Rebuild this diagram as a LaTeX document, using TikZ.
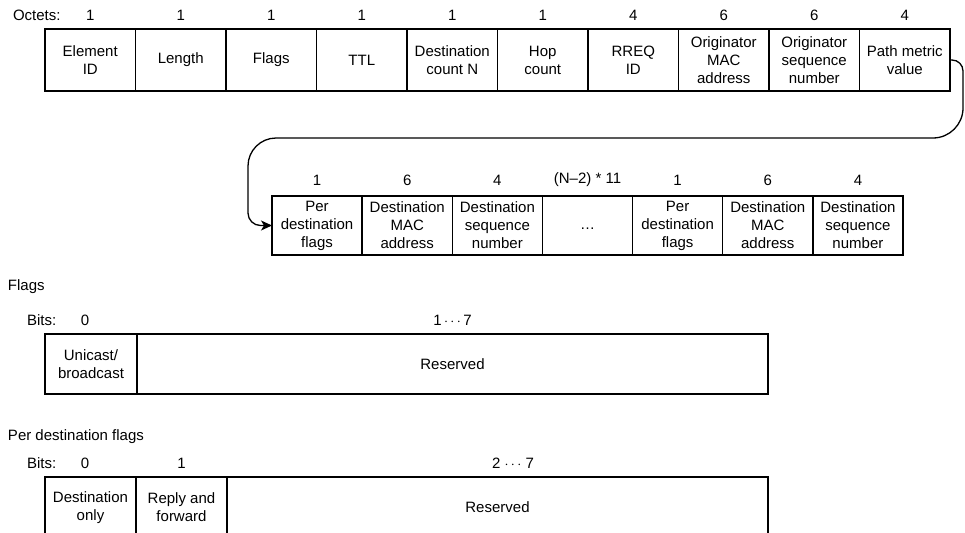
\documentclass[tikz,border=0pt]{standalone}
\usepackage{fontspec}
\setmainfont{Liberation Sans}
\usetikzlibrary{arrows.meta}
\begin{document}
\begin{tikzpicture}[x=1pt,y=-1pt,
  every node/.style={font=\fontsize{15}{18}\selectfont, inner sep=0pt, outer sep=0pt},
  cell/.style={draw, line width=1.3pt, align=center, minimum height=62pt, minimum width=90.5pt},
  cellb/.style={draw, line width=1.3pt, align=center, minimum height=59pt, minimum width=90.14pt},
  cellc/.style={draw, line width=1.3pt, align=center, minimum height=60pt},
  celld/.style={draw, line width=1.3pt, align=center, minimum height=61pt},
  outerbox/.style={line width=1.8pt},
  conn/.style={line width=1.3pt, -{Stealth[length=11pt,width=10pt,inset=3pt]}}]
\useasboundingbox (0,0) rectangle (965,532);
\clip (0,0) rectangle (965,532);

% ---------- top row ----------
\node[anchor=west] (oct) at (13,15) {Octets:};
\node[cell] (eid) at (90.25,60) {Element\\ID};
\node[cell] (len) at (180.75,60) {Length};
\node[cell] (flg) at (271.25,60) {Flags};
\node[cell] (ttl) at (361.75,60) {TTL};
\node[cell] (dcn) at (452.25,60) {Destination\\count N};
\node[cell] (hop) at (542.75,60) {Hop\\count};
\node[cell] (rid) at (633.25,60) {RREQ\\ID};
\node[cell] (oma) at (723.75,60) {Originator\\MAC\\address};
\node[cell] (osn) at (814.25,60) {Originator\\sequence\\number};
\node[cell] (pmv) at (904.75,60) {Path metric\\value};
\draw[outerbox] (eid.north west) rectangle (pmv.south east);

\node (o1) at (90.25,15) {1};
\node (o2) at (180.75,15) {1};
\node (o3) at (271.25,15) {1};
\node (o4) at (361.75,15) {1};
\node (o5) at (452.25,15) {1};
\node (o6) at (542.75,15) {1};
\node (o7) at (633.25,15) {4};
\node (o8) at (723.75,15) {6};
\node (o9) at (814.25,15) {6};
\node (o10) at (904.75,15) {4};

% ---------- second row ----------
\node[cellb] (pdf1) at (317.07,225.5) {Per\\destination\\flags};
\node[cellb] (dma1) at (407.21,225.5) {Destination\\MAC\\address};
\node[cellb] (dsn1) at (497.35,225.5) {Destination\\sequence\\number};
\node[cellb] (dots) at (587.49,225.5) {\strut\ldots};
\node[cellb] (pdf2) at (677.63,225.5) {Per\\destination\\flags};
\node[cellb] (dma2) at (767.77,225.5) {Destination\\MAC\\address};
\node[cellb] (dsn2) at (857.91,225.5) {Destination\\sequence\\number};
\draw[outerbox] (pdf1.north west) rectangle (dsn2.south east);

\node (s1) at (317.07,180) {1};
\node (s2) at (407.21,180) {6};
\node (s3) at (497.35,180) {4};
\node (s4) at (587.49,180) {(N–2) * 11};
\node (s5) at (677.63,180) {1};
\node (s6) at (767.77,180) {6};
\node (s7) at (857.91,180) {4};

% ---------- connector ----------
\coordinate (a1) at (952,60);
\coordinate (b1) at (963,71);
\coordinate (a2) at (963,108);
\coordinate (b2) at (933,138);
\coordinate (a3) at (276,138);
\coordinate (b3) at (248,166);
\coordinate (a4) at (248,213);
\coordinate (b4) at (260.5,225.5);
\draw[conn] (pmv.east) -- (a1)
  .. controls (958.05,60) and (963,64.95) .. (b1) -- (a2)
  .. controls (963,124.5) and (949.5,138) .. (b2) -- (a3)
  .. controls (260.6,138) and (248,150.6) .. (b3) -- (a4)
  .. controls (248,219.9) and (253.6,225.5) .. (b4) -- (pdf1.west);

% ---------- Flags ----------
\node[anchor=west] (ft) at (8,287) {Flags};
\node[anchor=west] (fb) at (27,320) {Bits:};
\node (fb0) at (85,320) {0};
\node (fb17) at (452.5,320) {1\,$\cdots$\,7};
\node[cellc, minimum width=92pt] (uni) at (91,364) {Unicast/\\broadcast};
\node[cellc, minimum width=631pt] (fres) at (452.5,364) {Reserved};
\draw[outerbox] (uni.north west) rectangle (fres.south east);

% ---------- Per destination flags ----------
\node[anchor=west] (pt) at (8,437) {Per destination flags};
\node[anchor=west] (pb) at (27,463) {Bits:};
\node (pb0) at (85,463) {0};
\node (pb1) at (181.5,463) {1};
\node (pb27) at (513,463) {2 $\cdots$ 7};
\node[celld, minimum width=91pt] (donly) at (90.5,507.5) {Destination\\only};
\node[celld, minimum width=91pt] (rfwd) at (181.5,507.5) {Reply and\\forward};
\node[celld, minimum width=541pt] (pres) at (497.5,507.5) {Reserved};
\draw[outerbox] (donly.north west) rectangle (pres.south east);
\end{tikzpicture}
\end{document}
